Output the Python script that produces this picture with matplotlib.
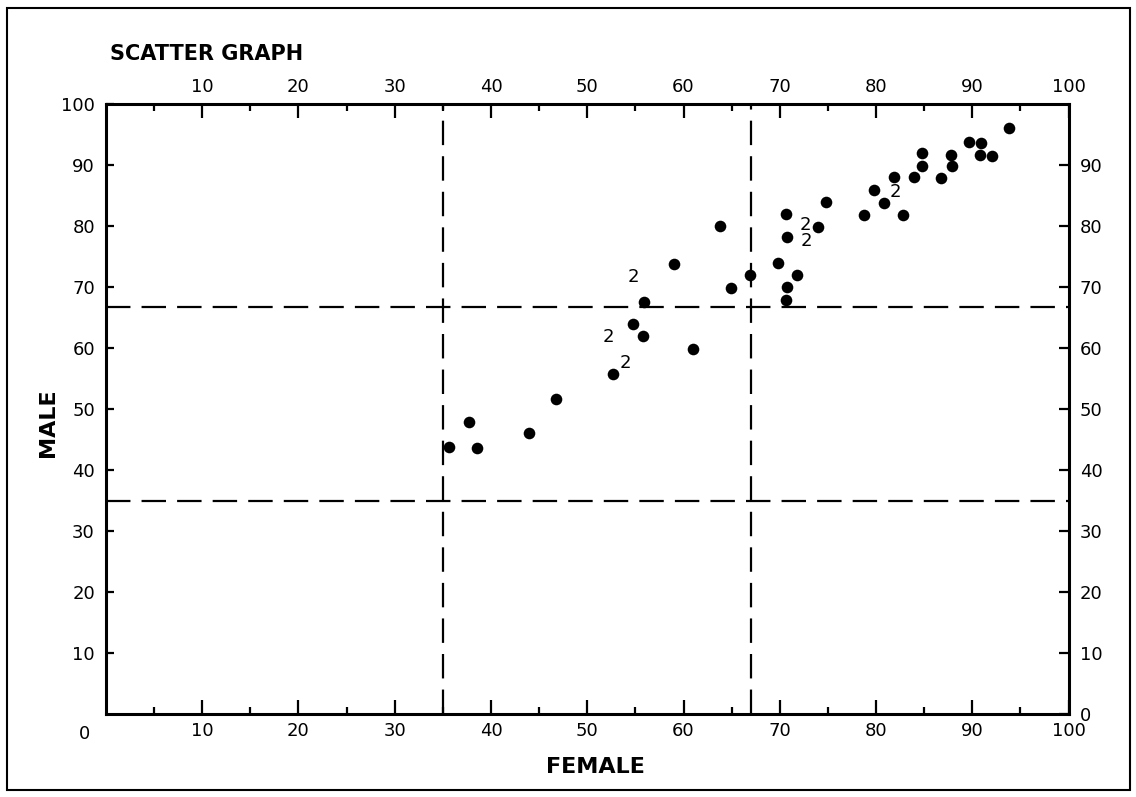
import matplotlib
matplotlib.use('Agg')
import matplotlib.pyplot as plt
from matplotlib.patches import Rectangle

# percentage scores
female = [35.6, 37.7, 38.5, 43.9, 46.8, 52.7, 54.8, 55.8, 55.9, 59.0,
          61.0, 63.8, 64.9, 66.9, 69.8, 70.7, 70.8, 70.8, 70.7, 71.8,
          74.0, 74.8, 78.7, 79.8, 80.8, 81.9, 82.8, 83.9, 84.8, 84.8,
          86.8, 87.8, 87.9, 89.7, 90.9, 90.8, 92.0, 93.8]
male = [43.7, 47.9, 43.6, 46.0, 51.7, 55.7, 63.9, 61.9, 67.6, 73.8,
        59.8, 80.0, 69.8, 71.9, 73.9, 81.9, 78.2, 70.0, 67.9, 71.9,
        79.9, 83.9, 81.8, 85.9, 83.8, 88.0, 81.8, 88.0, 91.9, 89.9,
        87.9, 91.7, 89.9, 93.8, 93.6, 91.6, 91.4, 96.0]

# "2" markers = two pupils on the same spot
twoX = [54.0, 52.2, 54.8, 72.7, 72.8, 82.0]
twoY = [57.6, 61.8, 71.7, 80.1, 77.5, 85.5]

# dashed cut-off lines
cutFemale = [35, 67]
cutMale = [35, 66.7]

tickVals = [10, 20, 30, 40, 50, 60, 70, 80, 90, 100]
rightVals = [0, 10, 20, 30, 40, 50, 60, 70, 80, 90]
minorVals = [5, 15, 25, 35, 45, 55, 65, 75, 85, 95]

fig = plt.figure(figsize=(11.36, 7.97), dpi=100)
ax = fig.add_axes([0.0933, 0.1041, 0.8473, 0.7654])
ax.set_xlim(0, 100)
ax.set_ylim(0, 100)

for s in ax.spines.values():
  s.set_linewidth(2.2)

ax.scatter(female, male, s=70, color='black', zorder=3, linewidths=0)
for x, y in zip(twoX, twoY):
  ax.text(x, y, '2', fontsize=13, ha='center', va='center', zorder=4)

for x in cutFemale:
  ax.axvline(x, color='black', lw=1.6, dashes=(11, 5))
for y in cutMale:
  ax.axhline(y, color='black', lw=1.6, dashes=(11, 5))

ax.set_xticks(tickVals)
ax.set_xticks(minorVals, minor=True)
ax.set_yticks(tickVals)
ax.tick_params(axis='x', which='major', direction='in', length=10, width=1.6,
               top=True, labeltop=True, labelsize=13, pad=6)
ax.tick_params(axis='x', which='minor', direction='in', length=5, width=1.6, top=True)
ax.tick_params(axis='y', which='major', direction='in', length=6, width=1.6,
               labelsize=13, pad=8)

ax2 = ax.twinx()
ax2.set_ylim(0, 100)
ax2.set_yticks(rightVals)
ax2.tick_params(axis='y', direction='in', length=7, width=1.6, labelsize=13, pad=8)
for s in ax2.spines.values():
  s.set_visible(False)

# the single "0" at the origin corner
ax.text(-2.2, -1.8, '0', fontsize=13, ha='center', va='top')

fig.text(0.0968, 0.932, 'SCATTER GRAPH', fontsize=15, fontweight='bold',
         ha='left', va='center')
fig.text(0.042, 0.47, 'MALE', fontsize=16, fontweight='bold', rotation=90,
         ha='center', va='center')
fig.text(0.524, 0.038, 'FEMALE', fontsize=16, fontweight='bold',
         ha='center', va='center')

fig.patches.append(Rectangle((0.006, 0.009), 0.989, 0.981, transform=fig.transFigure,
                             fill=False, lw=1.5, edgecolor='black'))

fig.savefig('out.png', dpi=100)
